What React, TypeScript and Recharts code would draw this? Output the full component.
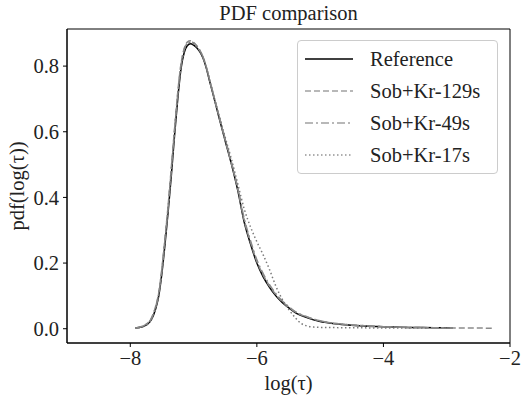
import React from 'react';
import { LineChart, Line, XAxis, YAxis, ReferenceArea } from 'recharts';

// Reference curve
const refX = [-7.92, -7.85, -7.78, -7.72, -7.66, -7.6, -7.55, -7.5, -7.45, -7.4, -7.35, -7.3, -7.25, -7.2, -7.15, -7.1, -7.05, -7.0, -6.95, -6.9, -6.85, -6.8, -6.75, -6.7, -6.6, -6.5, -6.4, -6.3, -6.2, -6.1, -6.0, -5.9, -5.8, -5.7, -5.6, -5.5, -5.4, -5.2, -5.0, -4.8, -4.6, -4.3, -4.0, -3.6, -3.2, -2.9];
const refY = [0.002, 0.004, 0.008, 0.015, 0.03, 0.06, 0.1, 0.17, 0.26, 0.36, 0.47, 0.59, 0.7, 0.79, 0.84, 0.862, 0.868, 0.864, 0.856, 0.843, 0.824, 0.795, 0.757, 0.72, 0.645, 0.572, 0.5, 0.42, 0.325, 0.258, 0.2, 0.158, 0.126, 0.1, 0.08, 0.064, 0.05, 0.033, 0.022, 0.016, 0.012, 0.008, 0.006, 0.004, 0.003, 0.002];

// Sob+Kr-129s
const s129X = [-7.92, -7.85, -7.78, -7.72, -7.66, -7.6, -7.55, -7.5, -7.45, -7.4, -7.35, -7.3, -7.25, -7.2, -7.15, -7.1, -7.05, -7.0, -6.95, -6.9, -6.85, -6.8, -6.75, -6.7, -6.6, -6.5, -6.4, -6.3, -6.2, -6.1, -6.0, -5.9, -5.8, -5.7, -5.6, -5.5, -5.4, -5.2, -5.0, -4.8, -4.6, -4.3, -4.0, -3.6, -3.2, -2.8, -2.5, -2.25];
const s129Y = [0.002, 0.005, 0.01, 0.018, 0.035, 0.068, 0.11, 0.185, 0.28, 0.38, 0.495, 0.61, 0.72, 0.805, 0.852, 0.873, 0.877, 0.872, 0.862, 0.848, 0.828, 0.798, 0.76, 0.722, 0.648, 0.574, 0.502, 0.424, 0.33, 0.263, 0.205, 0.163, 0.13, 0.104, 0.083, 0.066, 0.052, 0.035, 0.024, 0.017, 0.013, 0.009, 0.006, 0.004, 0.003, 0.002, 0.002, 0.001];

// Sob+Kr-49s
const s49X = [-7.92, -7.85, -7.78, -7.72, -7.66, -7.6, -7.55, -7.5, -7.45, -7.4, -7.35, -7.3, -7.25, -7.2, -7.15, -7.1, -7.05, -7.0, -6.95, -6.9, -6.85, -6.8, -6.75, -6.7, -6.6, -6.5, -6.4, -6.3, -6.2, -6.1, -6.0, -5.9, -5.8, -5.7, -5.6, -5.5, -5.4, -5.2, -5.0, -4.8, -4.6, -4.3, -4.0, -3.6, -3.2, -2.9];
const s49Y = [0.002, 0.005, 0.01, 0.017, 0.034, 0.066, 0.108, 0.18, 0.275, 0.375, 0.49, 0.605, 0.715, 0.8, 0.85, 0.871, 0.876, 0.871, 0.861, 0.847, 0.827, 0.798, 0.76, 0.723, 0.65, 0.578, 0.506, 0.428, 0.336, 0.268, 0.21, 0.168, 0.134, 0.107, 0.085, 0.068, 0.053, 0.036, 0.024, 0.017, 0.013, 0.009, 0.006, 0.004, 0.003, 0.002];

// Sob+Kr-17s
const s17X = [-7.92, -7.85, -7.78, -7.72, -7.66, -7.6, -7.55, -7.5, -7.45, -7.4, -7.35, -7.3, -7.25, -7.2, -7.15, -7.1, -7.05, -7.0, -6.95, -6.9, -6.85, -6.8, -6.75, -6.7, -6.6, -6.5, -6.4, -6.3, -6.2, -6.1, -6.0, -5.9, -5.8, -5.7, -5.6, -5.5, -5.4, -5.3, -5.2, -5.1, -5.0, -4.5, -3.8, -3.3];
const s17Y = [0.002, 0.004, 0.008, 0.015, 0.03, 0.062, 0.104, 0.175, 0.27, 0.37, 0.482, 0.6, 0.71, 0.797, 0.846, 0.867, 0.872, 0.868, 0.858, 0.845, 0.826, 0.797, 0.76, 0.724, 0.652, 0.583, 0.515, 0.44, 0.365, 0.31, 0.265, 0.225, 0.18, 0.13, 0.09, 0.06, 0.035, 0.016, 0.008, 0.005, 0.004, 0.003, 0.002, 0.002];

const xTicks = [-8, -6, -4, -2];
const yTicks = [0, 0.2, 0.4, 0.6, 0.8];

const zip = (xs: number[], ys: number[]) => xs.map((x, i) => ({ x, y: ys[i] }));

const FONT = '"Liberation Serif", serif';
const FS = 20.5;

const series = [
  { name: 'Reference', data: zip(refX, refY), stroke: '#000000', dash: undefined, width: 1.5 },
  { name: 'Sob+Kr-129s', data: zip(s129X, s129Y), stroke: '#8a8a8a', dash: '6 3', width: 1.5 },
  { name: 'Sob+Kr-49s', data: zip(s49X, s49Y), stroke: '#8a8a8a', dash: '8 3 2 3', width: 1.5 },
  { name: 'Sob+Kr-17s', data: zip(s17X, s17Y), stroke: '#7a7a7a', dash: '1.5 2.5', width: 1.5 },
];

const minus = (v: number) => String(v).replace('-', '\u2212');

export default function App() {
  return (
    <div style={{ position: 'absolute', left: 0, top: 0, width: 525, height: 395, background: '#fff', fontFamily: FONT }}>
      <LineChart width={525} height={395} margin={{ top: 29, right: 15, bottom: 0, left: 0 }}>
        <XAxis
          xAxisId="b"
          type="number"
          dataKey="x"
          domain={[-9, -2]}
          ticks={xTicks}
          allowDataOverflow
          height={52}
          tickSize={4}
          tickMargin={3}
          tickFormatter={minus}
          stroke="#000"
          tick={{ fill: '#222', fontSize: FS, fontFamily: FONT }}
          label={{ value: 'log(τ)', position: 'insideBottom', offset: 5, fill: '#222', fontSize: FS, fontFamily: FONT }}
        />
        <YAxis
          yAxisId="l"
          type="number"
          domain={[-0.0435, 0.913]}
          ticks={yTicks}
          allowDataOverflow
          width={67}
          tickSize={4}
          tickMargin={4}
          tickFormatter={(v: number) => v.toFixed(1)}
          stroke="#000"
          tick={{ fill: '#222', fontSize: FS, fontFamily: FONT }}
          label={{ value: 'pdf(log(τ))', angle: -90, position: 'insideLeft', offset: 17, fill: '#222', fontSize: FS, fontFamily: FONT, style: { textAnchor: 'middle' } }}
        />
        <ReferenceArea xAxisId="b" yAxisId="l" x1={-9} x2={-2} y1={-0.0435} y2={0.913} fill="none" stroke="#000" strokeWidth={1} ifOverflow="visible" />
        {series.map((s) => (
          <Line
            key={s.name}
            xAxisId="b"
            yAxisId="l"
            data={s.data}
            dataKey="y"
            name={s.name}
            type="monotone"
            stroke={s.stroke}
            strokeWidth={s.width}
            strokeDasharray={s.dash}
            dot={false}
            isAnimationActive={false}
          />
        ))}
      </LineChart>
      <div style={{ position: 'absolute', left: 0, width: 577, top: 2, textAlign: 'center', fontSize: FS, color: '#222' }}>
        PDF comparison
      </div>
      <div
        style={{
          position: 'absolute',
          left: 297,
          top: 40,
          width: 201,
          height: 134,
          border: '1px solid #cccccc',
          borderRadius: 4,
          background: 'rgba(255,255,255,0.8)',
          boxSizing: 'border-box',
        }}
      >
        {series.map((s, i) => (
          <div key={s.name} style={{ position: 'absolute', left: 7, top: 3 + i * 32, height: 30, display: 'flex', alignItems: 'center' }}>
            <svg width={48} height={10} style={{ marginRight: 17 }}>
              <line x1={0} x2={48} y1={5} y2={5} stroke={s.stroke} strokeWidth={s.width} strokeDasharray={s.dash} opacity={i === 0 ? 1 : 0.8} />
            </svg>
            <span style={{ fontSize: FS, color: '#222', whiteSpace: 'nowrap' }}>{s.name}</span>
          </div>
        ))}
      </div>
    </div>
  );
}
